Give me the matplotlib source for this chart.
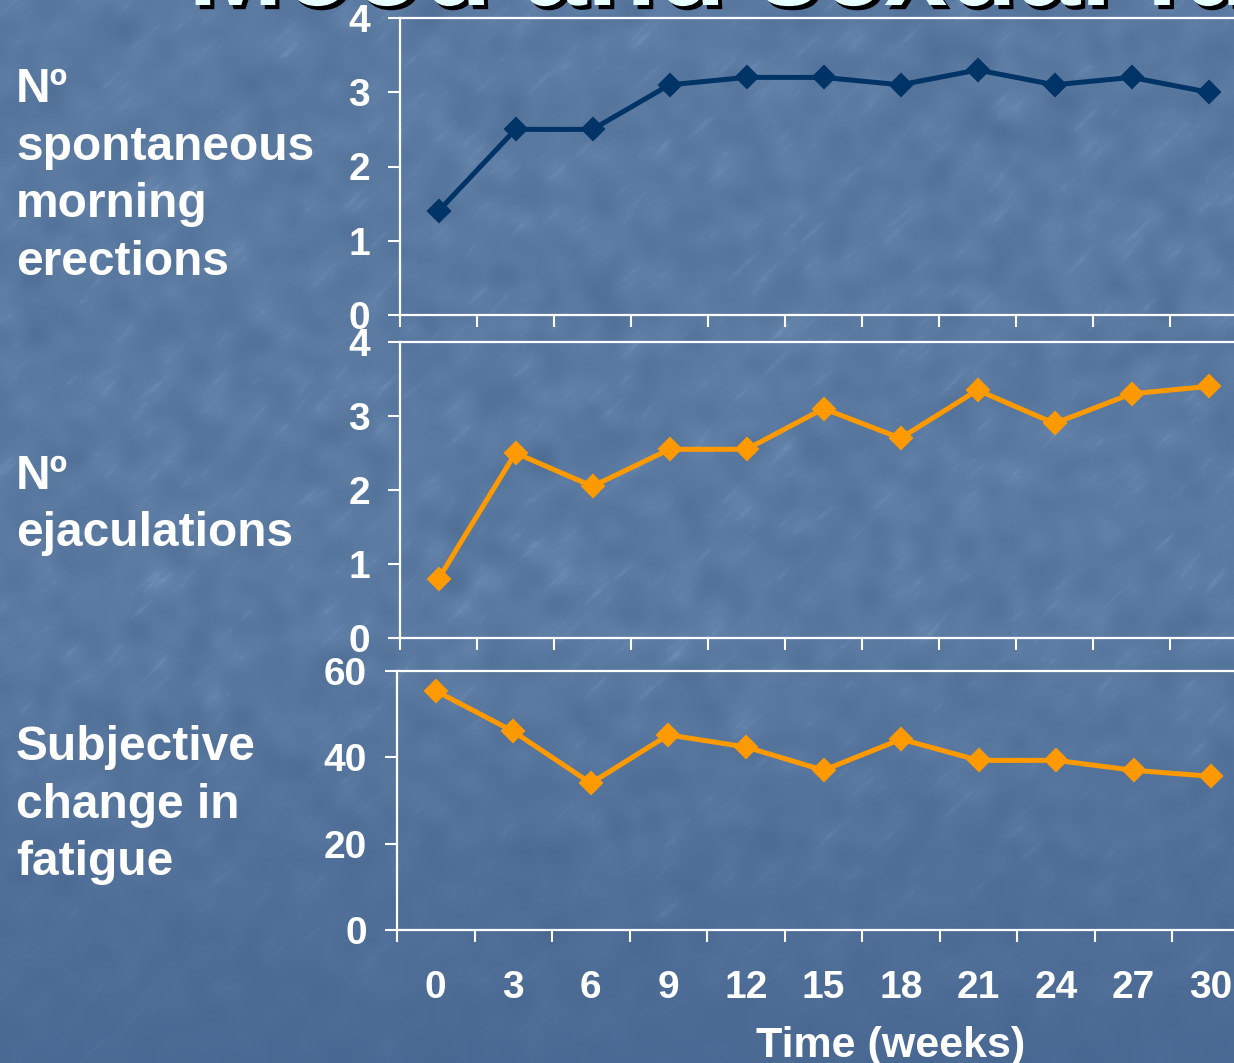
import numpy as np
import matplotlib
matplotlib.use("Agg")
import matplotlib.pyplot as plt
from matplotlib.ticker import FixedLocator, NullFormatter, FixedFormatter
import matplotlib.patheffects as pe

# Time points (weeks) and the three measured series
weeks = [0, 3, 6, 9, 12, 15, 18, 21, 24, 27, 30]
morning_erections = [1.4, 2.5, 2.5, 3.1, 3.2, 3.2, 3.1, 3.3, 3.1, 3.2, 3.0]
ejaculations = [0.8, 2.5, 2.05, 2.55, 2.55, 3.1, 2.7, 3.35, 2.9, 3.3, 3.4]
fatigue_change = [55.4, 46.0, 34.0, 45.2, 42.4, 37.0, 44.2, 39.3, 39.3, 37.0, 35.6]

panel_titles = [
    ["Nº", "spontaneous", "morning", "erections"],
    ["Nº", "ejaculations"],
    ["Subjective", "change in", "fatigue"],
]
y_ticks = [[0, 1, 2, 3, 4], [0, 1, 2, 3, 4], [0, 20, 40, 60]]
x_label = "Time (weeks)"
title = "Mood and sexual function"

W, H = 1234, 1063
DPI = 100
FONT = "Liberation Sans"
WHITE = "white"
NAVY = "#003366"
ORANGE = "#ff9900"

fig = plt.figure(figsize=(W / DPI, H / DPI), dpi=DPI)


def fx(px):
    return px / W


def fy(py):
    return 1 - py / H


def box_blur(a, r, axis):
    out = np.zeros_like(a)
    for k in range(-r, r + 1):
        out += np.roll(a, k, axis=axis)
    return out / (2 * r + 1)


# Slide background: blue gradient with soft mottling and faint streaks
bg = fig.add_axes([0, 0, 1, 1], zorder=-10)
bg.set_axis_off()
rows, cols = H // 2, W // 2
yy = np.linspace(0, 1, rows)[:, None]
top_c = np.array([0.352, 0.477, 0.632])
bot_c = np.array([0.290, 0.412, 0.578])
t = np.clip((yy - 0.6) / 0.4, 0, 1)
base = top_c[None, None, :] * (1 - t[..., None]) + bot_c[None, None, :] * t[..., None]
base = np.repeat(base, cols, axis=1)
rng = np.random.default_rng(7)
noise = rng.normal(0, 1, (rows, cols))
mottle = box_blur(box_blur(noise, 5, 0), 5, 1)
mottle = box_blur(box_blur(mottle, 4, 0), 4, 1)
mottle /= mottle.std()
streak = np.zeros_like(noise)
for k in range(-5, 6):
    streak += np.roll(np.roll(noise, k, axis=0), -k, axis=1)
streak = box_blur(streak, 1, 1)
streak /= streak.std()
streak = np.clip(streak - 1.3, 0, None)
tex = 0.011 * mottle + 0.022 * streak
fade = (1 - 0.75 * t)
img = np.clip(base + (tex * fade)[..., None], 0, 1)
bg.imshow(img, extent=[0, 1, 0, 1], aspect="auto", interpolation="bilinear")
bg.set_xlim(0, 1)
bg.set_ylim(0, 1)

# Partially visible slide title at the top edge
fig.text(fx(188), fy(5), title, fontsize=82, fontweight="bold", family=FONT,
         color="#e6ffff", ha="left", va="baseline",
         path_effects=[pe.withSimplePatchShadow(offset=(3, -3), shadow_rgbFace="black", alpha=1.0)])

panels = [
    dict(box=(400, 18, 1247, 315), data=morning_erections, color=NAVY, ylim=(0, 4)),
    dict(box=(400, 342, 1247, 638), data=ejaculations, color=ORANGE, ylim=(0, 4)),
    dict(box=(397, 671, 1250, 930), data=fatigue_change, color=ORANGE, ylim=(0, 60)),
]

idx = np.arange(len(weeks))
axes = []
for i, p in enumerate(panels):
    l, tp, r, b = p["box"]
    ax = fig.add_axes([fx(l), fy(b), fx(r - l), (b - tp) / H])
    ax.patch.set_alpha(0)
    ax.plot(idx, p["data"], color=p["color"], lw=3.6, marker="D", ms=11,
            mec=p["color"], mew=1.5, clip_on=False, zorder=5)
    ax.set_xlim(-0.5, len(weeks) - 0.5)
    ax.set_ylim(*p["ylim"])
    for side in ("left", "bottom", "top"):
        ax.spines[side].set_color(WHITE)
        ax.spines[side].set_linewidth(1.6)
    ax.spines["right"].set_visible(False)
    ax.set_yticks(y_ticks[i])
    ax.set_yticklabels([str(v) for v in y_ticks[i]])
    ax.tick_params(axis="y", direction="out", length=8.6, width=1.5, color=WHITE,
                   pad=13, labelsize=28, labelcolor=WHITE)
    ax.xaxis.set_major_locator(FixedLocator(np.arange(-0.5, len(weeks) + 0.5, 1.0)))
    ax.xaxis.set_major_formatter(NullFormatter())
    ax.tick_params(axis="x", which="major", direction="out", length=8.6, width=1.5,
                   color=WHITE)
    for lab in ax.get_yticklabels():
        lab.set_fontweight("bold")
        lab.set_family(FONT)
    axes.append(ax)

# Week labels under the bottom panel
axb = axes[-1]
axb.xaxis.set_minor_locator(FixedLocator(idx))
axb.xaxis.set_minor_formatter(FixedFormatter([str(w) for w in weeks]))
axb.tick_params(axis="x", which="minor", length=0, pad=29, labelsize=28, labelcolor=WHITE)
for lab in axb.get_xticklabels(minor=True):
    lab.set_fontweight("bold")
    lab.set_family(FONT)

fig.text(fx(891), fy(1057), x_label, fontsize=31, fontweight="bold", family=FONT,
         color=WHITE, ha="center", va="baseline")

# Row captions on the left
caption_baselines = [102, 489, 760]
for lines, y0 in zip(panel_titles, caption_baselines):
    for j, line in enumerate(lines):
        fig.text(fx(16), fy(y0 + 57.5 * j), line, fontsize=34.5, fontweight="bold",
                 family=FONT, color=WHITE, ha="left", va="baseline")

fig.savefig("out.png", dpi=DPI)
